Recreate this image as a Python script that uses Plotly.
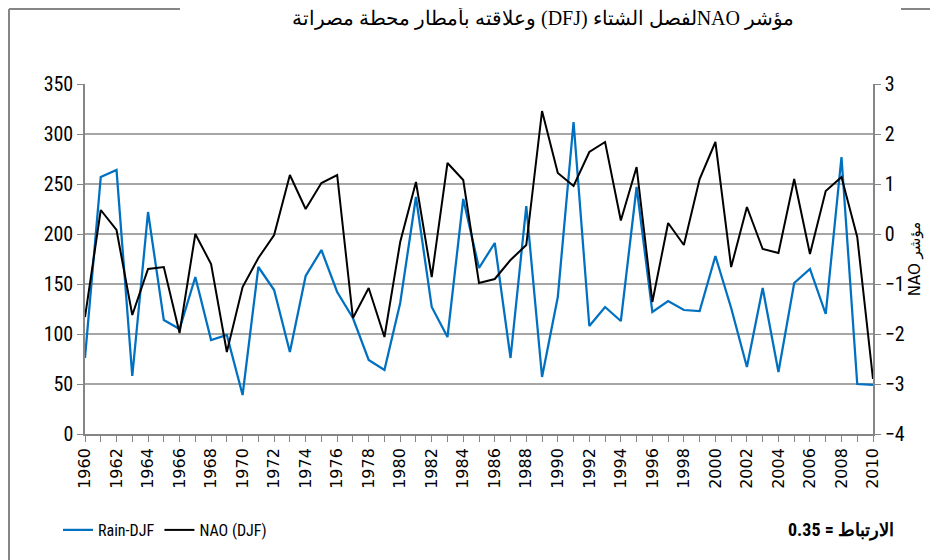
import plotly.graph_objects as go

years = list(range(1960, 2011))
rain_djf = [76, 257, 264, 58, 222, 114, 105, 157, 94, 99,
            39, 167, 144, 82, 158, 184, 142, 116, 74, 64,
            131, 237, 127, 97, 235, 166, 191, 76, 228, 57,
            137, 312, 108, 127, 113, 247, 122, 133, 124, 123,
            178, 126, 67, 146, 62, 151, 165, 120, 277, 50, 49]
nao_djf = [-1.66, 0.48, 0.08, -1.62, -0.70, -0.66, -1.98, 0.0, -0.60, -2.36,
           -1.06, -0.48, -0.02, 1.18, 0.50, 1.02, 1.18, -1.68, -1.08, -2.06,
           -0.16, 1.04, -0.86, 1.42, 1.08, -0.98, -0.90, -0.52, -0.22, 2.46,
           1.22, 0.96, 1.64, 1.84, 0.27, 1.34, -1.36, 0.22, -0.22, 1.10,
           1.84, -0.66, 0.54, -0.30, -0.38, 1.10, -0.40, 0.86, 1.14, -0.06, -2.90]

title_text = "\u202bمؤشر NAOلفصل الشتاء (DFJ) وعلاقته بأمطار محطة مصراتة\u202c"
y2_title = "\u202bمؤشر NAO\u202c"
corr_text = "0.35 = الارتباط"

NARROW = "Liberation Sans Narrow, Arial Narrow, Roboto Condensed, Arial"
GRID = "#a6a6a6"
AXIS = "#868686"

# the page body adds an 8px margin, so the figure is drawn 8px smaller
# and all pixel positions below are page positions minus 8
OFF = 8
W, H = 938 - OFF, 560 - OFF
L, R, T, B = 85 - OFF, 873 - OFF, 84 - OFF, 434 - OFF
def px(x):
    return (x - OFF - L) / (R - L)
def py(y):
    return (B - (y - OFF)) / (B - T)

fig = go.Figure()
fig.add_trace(go.Scatter(x=years, y=rain_djf, mode="lines", name="Rain-DJF",
                         line=dict(color="#0070c0", width=2.25)))
fig.add_trace(go.Scatter(x=years, y=nao_djf, mode="lines", name="NAO (DJF)",
                         yaxis="y2", line=dict(color="#000000", width=2)))

# chart-area border (broken by the title, as in the original)
border = dict(color=AXIS, width=2)
shapes = [
    dict(type="line", xref="paper", yref="paper", x0=px(9), x1=px(9), y0=py(9), y1=py(570), line=border),
    dict(type="line", xref="paper", yref="paper", x0=px(9), x1=px(180), y0=py(9), y1=py(9), line=border),
    dict(type="line", xref="paper", yref="paper", x0=px(901), x1=px(950), y0=py(9), y1=py(9), line=border),
]

fig.update_layout(
    width=W, height=H,
    margin=dict(l=L, r=W - R, t=T, b=H - B),
    paper_bgcolor="white", plot_bgcolor="white",
    showlegend=True,
    title=dict(text=title_text, x=px(543), xref="paper", xanchor="center",
               y=1 - (18 - OFF) / H, yanchor="middle",
               font=dict(family="Liberation Serif, Times New Roman, serif", size=20, color="black")),
    xaxis=dict(range=[1960, 2010], tickmode="linear", tick0=1960, dtick=2,
               tickangle=-90, ticks="outside", ticklen=6, tickcolor=AXIS,
               showline=True, linecolor=AXIS, linewidth=1.5, showgrid=False,
               zeroline=False,
               minor=dict(ticks="outside", dtick=1, ticklen=6, tickcolor=AXIS, showgrid=False),
               tickfont=dict(family="DejaVu Sans, Verdana, sans-serif", size=16, color="black")),
    yaxis=dict(range=[0, 350], dtick=50, ticks="outside", ticklen=6, tickcolor=AXIS,
               showline=True, linecolor=AXIS, linewidth=1.5,
               showgrid=True, gridcolor=GRID, gridwidth=1.5, zeroline=False,
               tickfont=dict(family=NARROW, size=20, color="black")),
    yaxis2=dict(range=[-4, 3], dtick=1, overlaying="y", side="right",
                ticks="outside", ticklen=6, tickcolor=AXIS,
                showline=True, linecolor=AXIS, linewidth=1.5,
                showgrid=False, zeroline=False,
                tickfont=dict(family=NARROW, size=20, color="black"),
                title=dict(text=y2_title, standoff=6,
                           font=dict(family="DejaVu Sans, Arial, sans-serif", size=15, color="black"))),
    legend=dict(orientation="h", x=px(58), xanchor="left", y=py(530), yanchor="middle",
                font=dict(family=NARROW, size=16, color="black"),
                bgcolor="rgba(0,0,0,0)", itemwidth=30, tracegroupgap=0),
    shapes=shapes,
    annotations=[dict(text="<b>" + corr_text + "</b>", xref="paper", yref="paper",
                      x=px(896), y=py(530), xanchor="right", yanchor="middle",
                      showarrow=False,
                      font=dict(family=NARROW, size=18, color="black"))],
)

fig.write_html("out.html")
